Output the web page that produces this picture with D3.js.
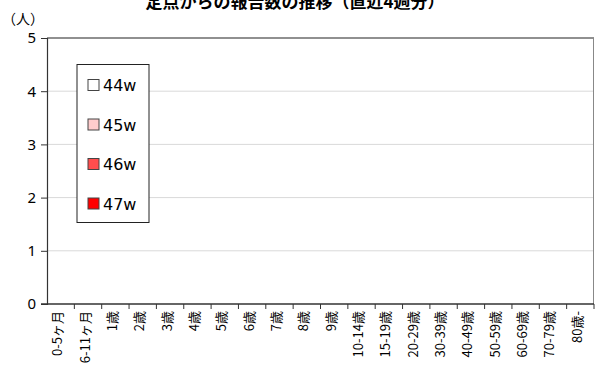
<!DOCTYPE html>
<html><head><meta charset="utf-8">
<script src="https://cdn.jsdelivr.net/npm/d3@7"></script>
<style>body{margin:0;background:#fff}svg{display:block}text{font-family:"Noto Sans CJK JP","Noto Sans",sans-serif}</style>
</head><body><div id="c"></div>
<script>
const title = "定点からの報告数の推移（直近4週分）";
const yUnit = "（人）";
const categories = ["0-5ヶ月","6-11ヶ月","1歳","2歳","3歳","4歳","5歳","6歳","7歳","8歳","9歳","10-14歳","15-19歳","20-29歳","30-39歳","40-49歳","50-59歳","60-69歳","70-79歳","80歳-"];
const seriesNames = ["44w","45w","46w","47w"];
const seriesColors = ["#FFFFFF","#FFCCCC","#FF4D4D","#FF0000"];
const values44 = [0,0,0,0,0,0,0,0,0,0,0,0,0,0,0,0,0,0,0,0];
const values45 = [0,0,0,0,0,0,0,0,0,0,0,0,0,0,0,0,0,0,0,0];
const values46 = [0,0,0,0,0,0,0,0,0,0,0,0,0,0,0,0,0,0,0,0];
const values47 = [0,0,0,0,0,0,0,0,0,0,0,0,0,0,0,0,0,0,0,0];
const yTicks = [0,1,2,3,4,5];
</script>
<script>
const W=595,H=368;
const svg=d3.select("#c").append("svg").attr("width",W).attr("height",H);
const m={l:47,r:1,t:38,b:64};
const x=d3.scaleBand().domain(categories).range([m.l,W-m.r]);
const y=d3.scaleLinear().domain([0,5]).range([H-m.b,m.t]);
const series=[values44,values45,values46,values47];
const xs=d3.scaleBand().domain(seriesNames).range([0,x.bandwidth()]).padding(0.1);

// gridlines
svg.append("g").selectAll("line").data(yTicks.filter(d=>d>0&&d<5)).join("line")
 .attr("x1",m.l).attr("x2",W-m.r).attr("y1",d=>y(d)).attr("y2",d=>y(d))
 .attr("stroke","#d9d9d9").attr("stroke-width",1);
// plot border top/right
svg.append("line").attr("x1",m.l).attr("x2",W-m.r).attr("y1",y(5)).attr("y2",y(5)).attr("stroke","#222").attr("stroke-width",1.2);
svg.append("line").attr("x1",W-m.r-0.5).attr("x2",W-m.r-0.5).attr("y1",y(5)).attr("y2",y(0)).attr("stroke","#888").attr("stroke-width",1);

// bars
series.forEach((vals,i)=>{
 svg.append("g").selectAll("rect").data(vals).join("rect")
  .attr("x",(d,j)=>x(categories[j])+xs(seriesNames[i]))
  .attr("width",xs.bandwidth())
  .attr("y",d=>y(d)).attr("height",d=>y(0)-y(d))
  .attr("fill",seriesColors[i]).attr("stroke","#333").attr("stroke-width",d=>d>0?0.5:0);
});

// y axis
const ya=svg.append("g").attr("transform",`translate(${m.l},0)`)
 .call(d3.axisLeft(y).tickValues(yTicks).tickSize(6).tickFormat(d3.format("d")));
ya.select(".domain").attr("stroke","#333").attr("stroke-width",1.2);
ya.selectAll(".tick line").attr("stroke","#333");
ya.selectAll("text").attr("font-size",15).attr("fill","#000").attr("x",-11).style("font-family","Noto Sans, sans-serif");

// x axis
const xa=svg.append("g").attr("transform",`translate(0,${y(0)})`)
 .call(d3.axisBottom(x).tickSize(0).tickFormat(""));
xa.select(".domain").remove();
svg.append("line").attr("x1",m.l-6).attr("x2",W-m.r).attr("y1",y(0)).attr("y2",y(0)).attr("stroke","#333").attr("stroke-width",1.5);
svg.append("g").selectAll("line").data(categories).join("line")
 .attr("x1",d=>x(d)+x.step()).attr("x2",d=>x(d)+x.step())
 .attr("y1",y(0)).attr("y2",y(0)+5).attr("stroke","#333");
svg.append("g").selectAll("text").data(categories).join("text")
 .attr("transform",d=>`translate(${x(d)+x.bandwidth()/2+1.5},${y(0)+7}) rotate(-90)`)
 .attr("text-anchor","end").attr("font-size",13).attr("fill","#000").text(d=>d);

// title & unit
svg.append("text").attr("x",295).attr("y",8).attr("text-anchor","middle").attr("font-size",17).attr("font-weight","bold").text(title);
svg.append("text").attr("x",2).attr("y",24).attr("font-size",14).text(yUnit);

// legend
const lg=svg.append("g");
lg.append("rect").attr("x",77).attr("y",64.5).attr("width",72).attr("height",158).attr("fill","#fff").attr("stroke","#222");
seriesNames.forEach((s,i)=>{
 const cy=85+i*39.5;
 lg.append("rect").attr("x",88).attr("y",cy-5.5).attr("width",11).attr("height",11).attr("fill",seriesColors[i]).attr("stroke","#444").attr("stroke-width",1);
 lg.append("text").attr("x",103).attr("y",cy+6).attr("font-size",16).style("font-family","DejaVu Sans, sans-serif").text(s);
});
</script></body></html>
